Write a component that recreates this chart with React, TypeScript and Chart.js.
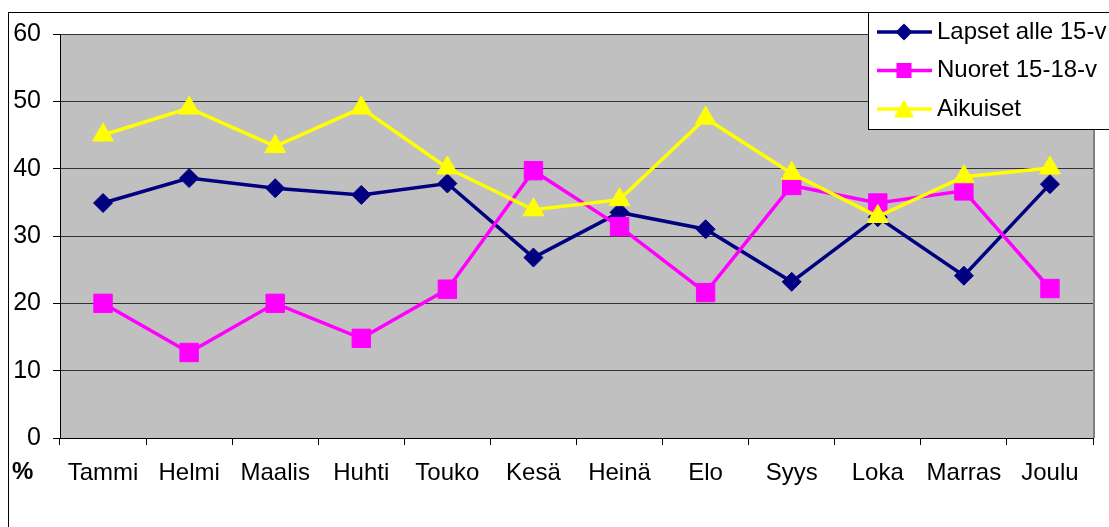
import React, { useEffect, useRef } from "react";
import { Chart, registerables } from "chart.js";

Chart.register(...registerables);

const months = ["Tammi", "Helmi", "Maalis", "Huhti", "Touko", "Kesä", "Heinä", "Elo", "Syys", "Loka", "Marras", "Joulu"];
const seriesNames = ["Lapset alle 15-v", "Nuoret 15-18-v", "Aikuiset"];
const lapset = [34.9, 38.6, 37.1, 36.1, 37.8, 26.8, 33.5, 31.0, 23.2, 32.8, 24.1, 37.7];
const nuoret = [20.0, 12.7, 20.0, 14.8, 22.1, 39.7, 31.4, 21.6, 37.5, 34.9, 36.7, 22.2];
const aikuiset = [45.0, 49.0, 43.3, 49.0, 40.1, 33.9, 35.4, 47.5, 39.3, 32.9, 38.8, 40.1];
const yTicks = [0, 10, 20, 30, 40, 50, 60];

const FONT = "'Liberation Sans', Arial, sans-serif";
const colors = ["#000080", "#FF00FF", "#FFFF00"];
const styles = ["rectRot", "rect", "triangle"];

function drawMarker(ctx: CanvasRenderingContext2D, style: string, x: number, y: number, color: string) {
  ctx.save();
  ctx.fillStyle = color;
  ctx.beginPath();
  if (style === "rectRot") {
    const r = 8.5;
    ctx.moveTo(x, y - r);
    ctx.lineTo(x + r, y);
    ctx.lineTo(x, y + r);
    ctx.lineTo(x - r, y);
    ctx.closePath();
  } else if (style === "rect") {
    const h = 7.5;
    ctx.rect(x - h, y - h, 2 * h, 2 * h);
  } else {
    const w = 10, hh = 9.5;
    ctx.moveTo(x, y - hh);
    ctx.lineTo(x + w, y + hh * 0.9);
    ctx.lineTo(x - w, y + hh * 0.9);
    ctx.closePath();
  }
  ctx.fill();
  ctx.restore();
}

const decorPlugin = {
  id: "decor",
  beforeDraw(chart: any) {
    const { ctx, chartArea } = chart;
    ctx.save();
    ctx.fillStyle = "#FFFFFF";
    ctx.fillRect(0, 0, chart.width, chart.height);
    ctx.fillStyle = "#C0C0C0";
    ctx.fillRect(chartArea.left, chartArea.top, chartArea.right - chartArea.left, chartArea.bottom - chartArea.top);
    ctx.strokeStyle = "#000000";
    ctx.lineWidth = 1;
    ctx.strokeRect(8.5, 12.5, chart.width + 20, chart.height + 20);
    ctx.restore();
  },
  beforeDatasetsDraw(chart: any) {
    const { ctx, chartArea } = chart;
    ctx.save();
    ctx.strokeStyle = "#808080";
    ctx.lineWidth = 2;
    ctx.beginPath();
    ctx.moveTo(chartArea.right + 1, chartArea.top);
    ctx.lineTo(chartArea.right + 1, chartArea.bottom);
    ctx.stroke();
    ctx.restore();
  },
  afterDraw(chart: any) {
    const { ctx } = chart;
    ctx.save();
    ctx.fillStyle = "#000";
    ctx.font = `bold 24px ${FONT}`;
    ctx.textAlign = "left";
    ctx.textBaseline = "middle";
    ctx.fillText("%", 12, 472);
    ctx.fillStyle = "#FFFFFF";
    ctx.fillRect(868, 12, 260, 117);
    ctx.strokeStyle = "#000000";
    ctx.lineWidth = 1;
    ctx.strokeRect(868.5, 12.5, 260, 117);
    const rows = [32, 70.5, 109];
    chart.data.datasets.forEach((ds: any, i: number) => {
      const y = rows[i];
      ctx.strokeStyle = colors[i];
      ctx.lineWidth = 3.5;
      ctx.beginPath();
      ctx.moveTo(877, y);
      ctx.lineTo(932, y);
      ctx.stroke();
      drawMarker(ctx, styles[i], 904, y, colors[i]);
      ctx.fillStyle = "#000";
      ctx.font = `24px ${FONT}`;
      ctx.textAlign = "left";
      ctx.textBaseline = "middle";
      ctx.fillText(ds.label, 937, y);
    });
    ctx.restore();
  },
};

export default function App() {
  const ref = useRef<HTMLCanvasElement | null>(null);
  useEffect(() => {
    if (!ref.current) return;
    const chart = new Chart(ref.current, {
      type: "line",
      data: {
        labels: months,
        datasets: [
          { label: seriesNames[0], data: lapset, order: 3 },
          { label: seriesNames[1], data: nuoret, order: 2 },
          { label: seriesNames[2], data: aikuiset, order: 1 },
        ].map((d, i) => ({
          ...d,
          borderColor: colors[i],
          backgroundColor: colors[i],
          pointStyle: styles[i] as any,
          pointRadius: i === 0 ? 9.5 : i === 1 ? 13 : 12,
          pointBorderWidth: 1,
          pointBorderColor: colors[i],
          pointBackgroundColor: colors[i],
          borderWidth: 3.5,
          tension: 0,
          fill: false,
        })),
      },
      options: {
        responsive: false,
        animation: false,
        layout: { padding: { left: 0, top: 34, right: 16, bottom: 0 } },
        plugins: { legend: { display: false }, tooltip: { enabled: false } },
        scales: {
          x: {
            offset: true,
            grid: {
              offset: true,
              drawOnChartArea: false,
              drawTicks: true,
              tickLength: 7,
              color: "#000",
              tickColor: "#000",
            },
            border: { color: "#000", width: 1 },
            ticks: {
              color: "#000",
              font: { family: FONT, size: 24 },
              padding: 14,
              maxRotation: 0,
              autoSkip: false,
            },
            afterFit(axis: any) {
              axis.height = 89;
            },
          },
          y: {
            min: 0,
            max: 60,
            afterBuildTicks(axis: any) {
              axis.ticks = yTicks.map((v) => ({ value: v }));
            },
            grid: {
              color: "#333333",
              tickColor: "#000",
              tickLength: 7,
              drawTicks: true,
            },
            border: { color: "#000", width: 1 },
            ticks: {
              color: "#000",
              font: { family: FONT, size: 25 },
              padding: 12,
            },
            afterFit(axis: any) {
              axis.width = 60;
            },
          },
        },
      },
      plugins: [decorPlugin],
    });
    return () => chart.destroy();
  }, []);
  return (
    <div style={{ position: "fixed", left: 0, top: 0, width: 1109, height: 527 }}>
      <canvas ref={ref} width={1109} height={527} style={{ width: 1109, height: 527, display: "block" }} />
    </div>
  );
}
